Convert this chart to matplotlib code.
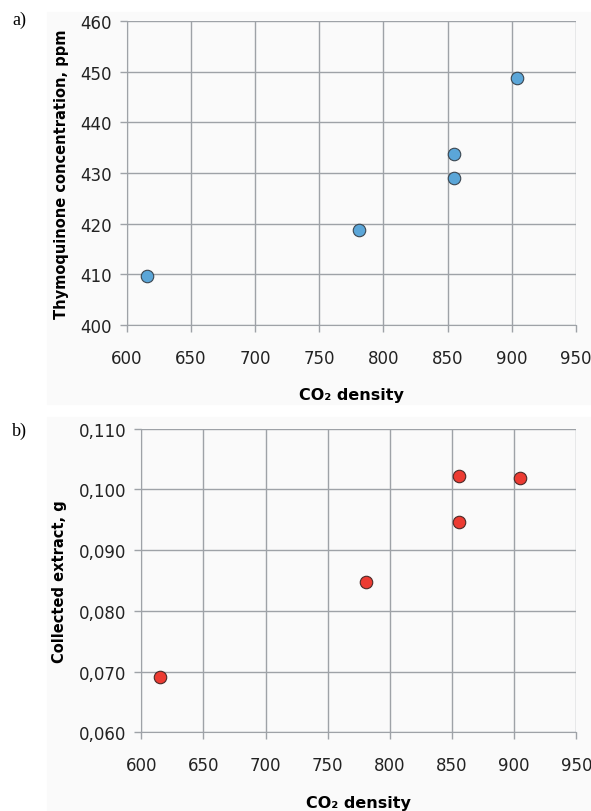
import matplotlib.pyplot as plt
from matplotlib.patches import Rectangle
from matplotlib.ticker import FuncFormatter

# CO2 density vs thymoquinone concentration (a) and collected extract (b)
density_a = [615.5, 780.8, 855.3, 855.3, 904.4]
thymoquinone = [409.6, 418.8, 433.7, 429.0, 448.8]

density_b = [615.3, 780.5, 855.6, 855.6, 904.4]
extract = [0.0691, 0.0847, 0.0947, 0.1022, 0.1018]

x_ticks = [600, 650, 700, 750, 800, 850, 900, 950]
ticks_a = [400, 410, 420, 430, 440, 450, 460]
ticks_b = [0.060, 0.070, 0.080, 0.090, 0.100, 0.110]

W, H = 591, 812
fig = plt.figure(figsize=(W / 100, H / 100), dpi=100)
fig.patch.set_facecolor('white')

# light grey chart areas behind each panel
fig.add_artist(Rectangle((47 / W, 1 - 405 / H), (W - 47) / W, 392 / H,
                         transform=fig.transFigure, color='#fafafa', zorder=0))
fig.add_artist(Rectangle((47 / W, 0), (W - 47) / W, 1 - 418 / H,
                         transform=fig.transFigure, color='#fafafa', zorder=0))

grid_col = '#9ea2a7'


def style(ax):
    ax.set_facecolor('none')
    ax.grid(True, color=grid_col, linewidth=1)
    ax.set_axisbelow(True)
    for s in ax.spines.values():
        s.set_visible(False)
    ax.spines['left'].set_visible(True)
    ax.spines['bottom'].set_visible(True)
    ax.spines['left'].set_color(grid_col)
    ax.spines['bottom'].set_color(grid_col)
    ax.tick_params(axis='both', color=grid_col, length=5, width=1, direction='out')
    ax.tick_params(axis='x', pad=12)
    ax.tick_params(axis='y', pad=6)
    for lab in ax.get_xticklabels() + ax.get_yticklabels():
        lab.set_fontfamily('DejaVu Sans')
        lab.set_fontsize(12)
        lab.set_color('#222222')


# panel a
ax1 = fig.add_axes([126.7 / W, 1 - 326 / H, (576 - 126.7) / W, (326 - 22) / H])
ax1.set_xlim(600, 950)
ax1.set_ylim(400, 460)
ax1.set_xticks(x_ticks)
ax1.set_yticks(ticks_a)
ax1.plot(density_a, thymoquinone, 'o', markersize=9, markerfacecolor='#5ba6d8',
         markeredgecolor='#3b4650', markeredgewidth=0.8, zorder=3, clip_on=False)
style(ax1)
ax1.set_xlabel('CO₂ density', fontsize=11.5, fontweight='bold', family='DejaVu Sans', labelpad=15)
ax1.set_ylabel('Thymoquinone concentration, ppm', fontsize=10.5, fontweight='bold',
               family='DejaVu Sans', labelpad=8)

# panel b
ax2 = fig.add_axes([141.3 / W, 1 - 733.3 / H, (576.3 - 141.3) / W, (733.3 - 429.7) / H])
ax2.set_xlim(600, 950)
ax2.set_ylim(0.060, 0.110)
ax2.set_xticks(x_ticks)
ax2.set_yticks(ticks_b)
ax2.yaxis.set_major_formatter(FuncFormatter(lambda v, p: f'{v:.3f}'.replace('.', ',')))
ax2.plot(density_b, extract, 'o', markersize=9, markerfacecolor='#ec3b32',
         markeredgecolor='#4a2a28', markeredgewidth=0.8, zorder=3, clip_on=False)
style(ax2)
ax2.set_xlabel('CO₂ density', fontsize=11.5, fontweight='bold', family='DejaVu Sans', labelpad=15)
ax2.set_ylabel('Collected extract, g', fontsize=10.5, fontweight='bold',
               family='DejaVu Sans', labelpad=8)

fig.text(12 / W, 1 - 20 / H, 'a)', family='Liberation Serif', fontsize=13, va='center')
fig.text(12 / W, 1 - 431 / H, 'b)', family='Liberation Serif', fontsize=13, va='center')

fig.savefig('out.png', dpi=100)
